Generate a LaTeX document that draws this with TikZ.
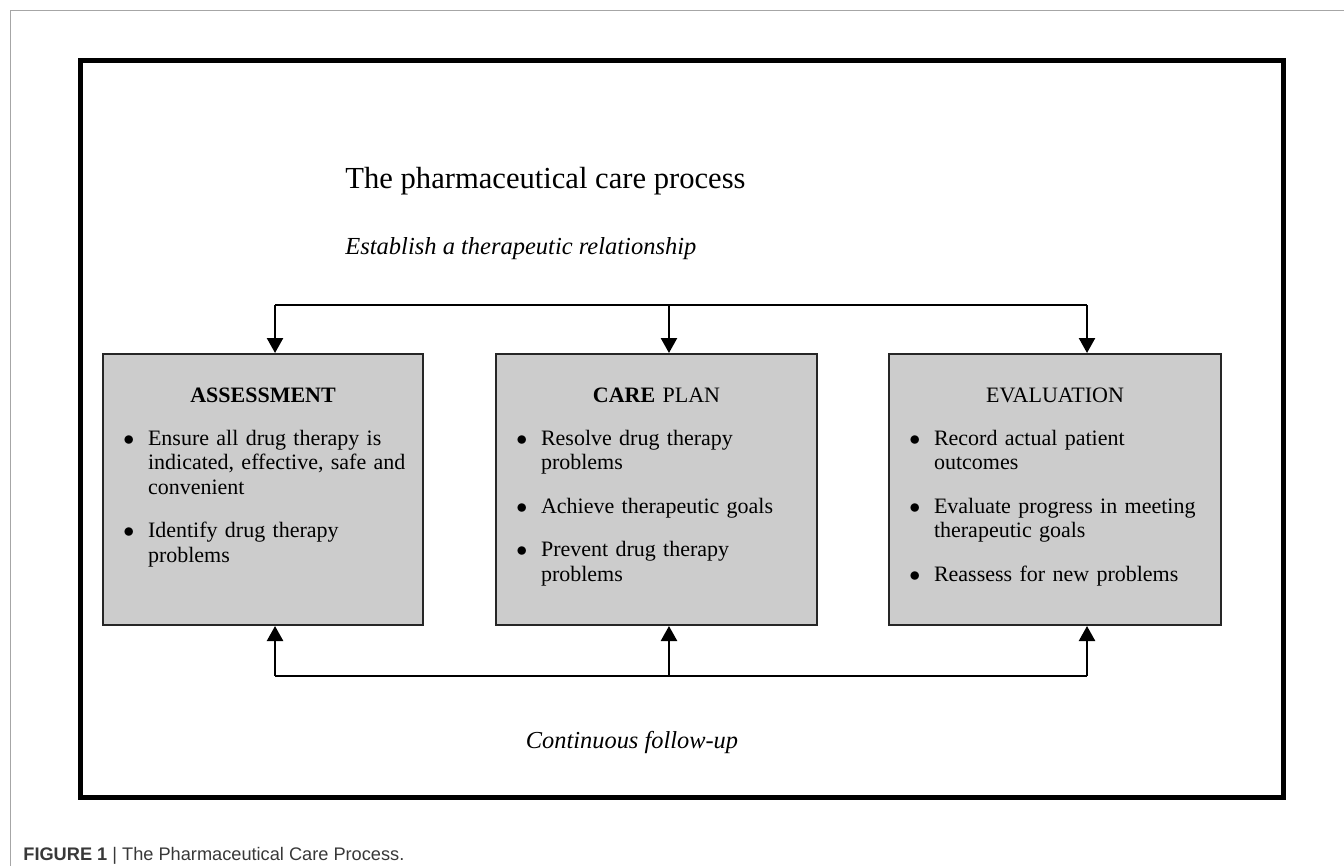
\documentclass[tikz,border=0pt]{standalone}
\usepackage{fontspec}
\setmainfont{Liberation Serif}
\newfontfamily\capfont{Liberation Sans}
\usepackage{enumitem}
\usetikzlibrary{arrows.meta,positioning}

\setlist[itemize]{label=$\bullet$, leftmargin=22.5pt, labelsep=6.8pt, topsep=9.5pt, itemsep=9.5pt, parsep=0pt, partopsep=0pt}

\tikzset{
    stage/.style={draw=black!85, line width=1pt, fill=gray!40, minimum width=#1, minimum height=135.5pt, inner sep=0pt},
    stagetext/.style={text width=#1, inner sep=0pt, align=left, anchor=base, font=\fontsize{11}{12.2}\selectfont},
    rail/.style={line width=1pt},
    flow/.style={line width=1.2pt, -{Triangle[length=7.5pt,width=8pt]}}
}

\begin{document}
\begin{tikzpicture}
    \useasboundingbox (0,0) rectangle (23.618,-15.218);

    % --- Frames ---
    \draw[black!35, line width=0.6pt] (0.185,-15.218) |- (23.618,-0.185);
    \draw[line width=2.5pt] (1.415,-1.063) rectangle (22.546,-14.014);

    % --- Headings ---
    \node[anchor=base west, inner sep=0pt, font=\fontsize{15.3}{18}\selectfont] (title) at (6.063,-3.304) {The pharmaceutical care process};
    \node[anchor=base west, inner sep=0pt, font=\fontsize{12.25}{14}\selectfont\itshape] (start) at (6.063,-4.464) {Establish a therapeutic relationship};

    % --- Stages ---
    \node[stage=160pt] (assess) at (4.622,-8.602) {};
    \node[stage=160.5pt] (plan) at (11.537,-8.602) {};
    \node[stage=166pt] (eval) at (18.540,-8.602) {};

    \node[stagetext=160pt] (assesstxt) at ([yshift=-24.5pt]assess.north) {
        {\centering\textbf{ASSESSMENT}\par}
        \begin{itemize}
            \item Ensure all drug therapy is\\indicated, effective, safe and\\convenient
            \item Identify drug therapy\\problems
        \end{itemize}
    };
    \node[stagetext=160.5pt] (plantxt) at ([yshift=-24.5pt]plan.north) {
        {\centering\textbf{CARE} PLAN\par}
        \begin{itemize}
            \item Resolve drug therapy\\problems
            \item Achieve therapeutic goals
            \item Prevent drug therapy\\problems
        \end{itemize}
    };
    \node[stagetext=166pt] (evaltxt) at ([yshift=-24.5pt]eval.north) {
        {\centering EVALUATION\par}
        \begin{itemize}
            \item Record actual patient\\outcomes
            \item Evaluate progress in meeting\\therapeutic goals
            \item Reassess for new problems
        \end{itemize}
    };

    % --- Top rail (relationship feeds every stage) ---
    \coordinate (t1) at (4.833,-5.360);
    \coordinate (t2) at (11.756,-5.360);
    \coordinate (t3) at (19.102,-5.360);
    \draw[rail] (t1) -- (t3);
    \draw[flow] (t1) -- (t1 |- assess.north);
    \draw[flow] (t2) -- (t2 |- plan.north);
    \draw[flow] (t3) -- (t3 |- eval.north);

    % --- Bottom rail (follow-up) ---
    \coordinate (b1) at (4.833,-11.879);
    \coordinate (b2) at (11.756,-11.879);
    \coordinate (b3) at (19.102,-11.879);
    \draw[rail] (b1) -- (b3);
    \draw[flow] (b1) -- (b1 |- assess.south);
    \draw[flow] (b2) -- (b2 |- plan.south);
    \draw[flow] (b3) -- (b3 |- eval.south);

    \node[anchor=base, inner sep=0pt, font=\fontsize{12.2}{14}\selectfont\itshape] (followup) at (11.106,-13.145) {Continuous follow-up};

    % --- Caption ---
    \node[anchor=base west, inner sep=0pt, text=black!78, font=\capfont\fontsize{9.1}{10}\selectfont] (caption) at (0.404,-15.130) {\textbf{FIGURE 1} | The Pharmaceutical Care Process.};
\end{tikzpicture}
\end{document}
